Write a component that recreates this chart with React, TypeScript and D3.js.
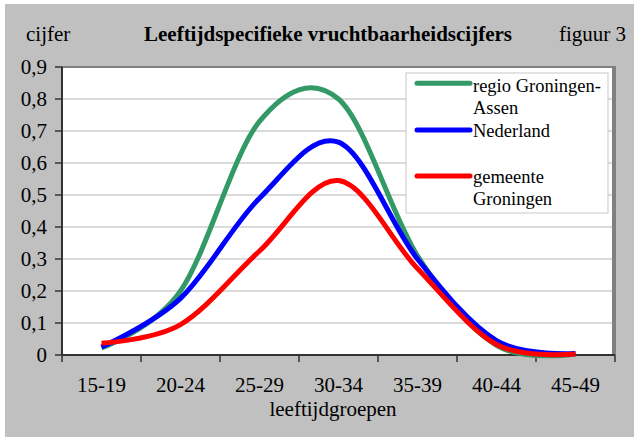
import React from "react";
import * as d3 from "d3";

const categories = ["15-19", "20-24", "25-29", "30-34", "35-39", "40-44", "45-49"];
const regio = [0.022, 0.2, 0.73, 0.8, 0.31, 0.03, 0.003];
const nederland = [0.025, 0.177, 0.49, 0.665, 0.3, 0.045, 0.005];
const gemeente = [0.037, 0.095, 0.325, 0.545, 0.27, 0.033, 0.003];
const yTicks = [0, 0.1, 0.2, 0.3, 0.4, 0.5, 0.6, 0.7, 0.8, 0.9];
const seriesNames = [["regio Groningen-", "Assen"], ["Nederland"], ["", "gemeente", "Groningen"]];
const seriesColors = ["#339966", "#0000ff", "#ff0000"];

const W = 639, H = 437;
const L = 62, R = 615, T = 67, B = 355;
const font = "'Liberation Serif', 'Times New Roman', serif";

export default function App() {
  const x = d3.scaleBand<string>().domain(categories).range([L, R]);
  const y = d3.scaleLinear().domain([0, 0.9]).range([B, T]);
  const line = d3
    .line<number>()
    .x((_, i) => (x(categories[i]) as number) + x.bandwidth() / 2)
    .y((d) => y(d))
    .curve(d3.curveCardinal.tension(0));
  const data = [regio, nederland, gemeente];
  const fmt = (v: number) => (v === 0 ? "0" : v.toFixed(1).replace(".", ","));
  const legendY = [83.3, 130, 176];
  const legendTextY = [[91.7, 114], [136.7], [160, 182.7, 205]];
  return (
    <svg width={W} height={H} style={{ position: "absolute", left: 0, top: 0 }} fontFamily={font}>
      <rect x={0} y={0} width={W} height={H} fill="#ffffff" />
      <rect x={5} y={4} width={629} height={433} fill="#c0c0c0" />
      <text x={26} y={41} fontSize={21} fill="#000">cijfer</text>
      <text x={328} y={41} fontSize={21} fontWeight="bold" textAnchor="middle" fill="#000">
        Leeftijdspecifieke vruchtbaarheidscijfers
      </text>
      <text x={626} y={41} fontSize={21} textAnchor="end" fill="#000">figuur 3</text>
      {/* plot area */}
      <rect x={L} y={T} width={613 - L} height={B - T} fill="#ffffff" stroke="#808080" strokeWidth={2} />
      <rect x={613} y={T - 1} width={3} height={B - T + 1} fill="#808080" />
      {yTicks.slice(1, -1).map((t) => (
        <line key={t} x1={L} x2={612} y1={y(t)} y2={y(t)} stroke="#cfcfcf" strokeWidth={1.5} />
      ))}
      {/* axes */}
      <line x1={L} x2={L} y1={T} y2={B} stroke="#333" strokeWidth={2} />
      <line x1={L} x2={R} y1={B} y2={B} stroke="#333" strokeWidth={2} />
      {yTicks.map((t) => (
        <g key={t}>
          <line x1={55} x2={L} y1={y(t)} y2={y(t)} stroke="#333" strokeWidth={1.5} />
          <text x={47} y={y(t) + 7} fontSize={21} textAnchor="end" fill="#000">{fmt(t)}</text>
        </g>
      ))}
      {d3.range(categories.length + 1).map((i) => {
        const xx = L + i * x.bandwidth();
        return <line key={i} x1={xx} x2={xx} y1={B} y2={B + 7} stroke="#333" strokeWidth={1.5} />;
      })}
      {categories.map((c) => (
        <text key={c} x={(x(c) as number) + x.bandwidth() / 2} y={391.5} fontSize={21} textAnchor="middle" fill="#000">
          {c}
        </text>
      ))}
      <text x={333} y={415.5} fontSize={21} textAnchor="middle" fill="#000">leeftijdgroepen</text>
      {/* series */}
      {data.map((d, i) => (
        <path key={i} d={line(d) as string} fill="none" stroke={seriesColors[i]} strokeWidth={5} strokeLinejoin="round" />
      ))}
      {/* legend */}
      <rect x={406} y={73} width={202} height={140} fill="#ffffff" stroke="#c8c8c8" strokeWidth={1} />
      {seriesColors.map((c, i) => (
        <line key={i} x1={417} x2={470} y1={legendY[i]} y2={legendY[i]} stroke={c} strokeWidth={5} strokeLinecap="round" />
      ))}
      {seriesNames.map((names, i) =>
        names.map((n, j) => (
          <text key={i + "-" + j} x={473} y={legendTextY[i][j]} fontSize={18.5} fill="#000">{n}</text>
        ))
      )}
    </svg>
  );
}
